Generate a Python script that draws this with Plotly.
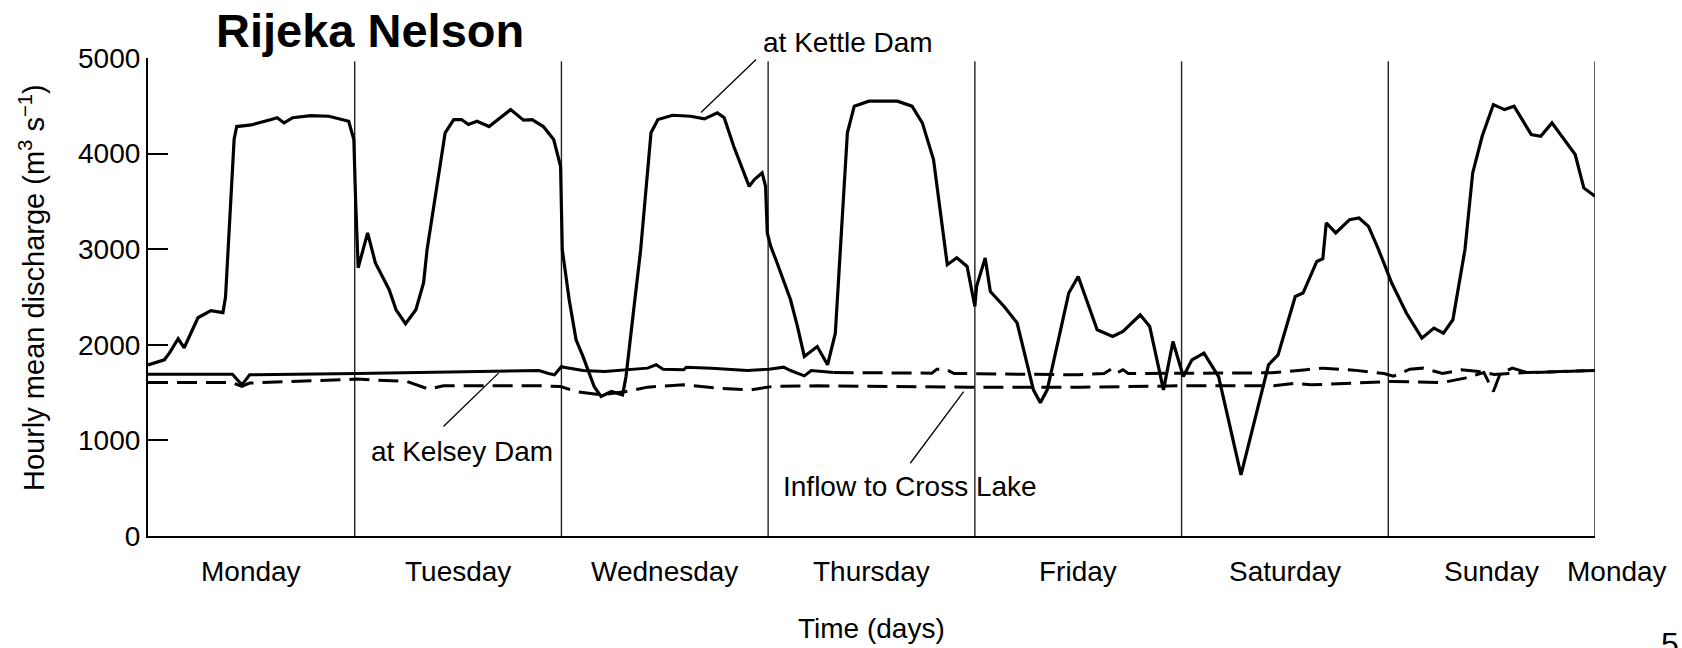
import plotly.graph_objects as go

# ---------------- data (hours from Monday 00:00, discharge m3/s) ----------------
kettle_hours = [0, 1.9, 2.5, 3.5, 4.2, 5.8, 7.3, 8.7, 9.0, 9.5, 10.0, 10.3, 12.0, 14.3, 15.0, 15.8,
                16.8, 18.9, 21.0, 23.3, 23.9, 24.1, 24.4, 25.5, 26.4, 28.0, 28.8, 29.9, 31.1, 32.0,
                32.4, 34.5, 35.5, 36.4, 37.2, 38.2, 39.6, 40.9, 42.1, 43.6, 44.6, 45.9, 47.1, 47.9,
                48.1, 48.9, 49.7, 50.5, 51.8, 52.6, 53.8, 55.1, 55.5, 56.3, 57.2, 58.4, 59.2, 60.9,
                63.0, 64.6, 66.1, 66.9, 68.0, 69.8, 70.4, 71.3, 71.7, 71.9, 72.3, 72.9, 74.6, 75.4,
                76.2, 77.7, 78.9, 79.8, 80.4, 81.2, 82.0, 83.7, 87.0, 88.7, 89.9, 91.2, 92.8, 93.9,
                95.1, 96.0, 96.2, 97.2, 97.8, 99.4, 100.9, 102.0, 102.8, 103.6, 104.4, 105.7, 106.9,
                108.0, 109.0, 110.2, 112.0, 113.2, 115.2, 116.3, 117.9, 119.0, 120.2, 121.2, 122.6,
                124.3, 126.9, 130.1, 131.2, 133.2, 134.1, 135.7, 136.4, 136.8, 137.9, 139.5, 140.6,
                141.7, 142.8, 144.4, 146.1, 147.9, 149.3, 150.4, 151.5, 152.2, 152.9, 153.8, 154.9,
                156.2, 157.5, 158.6, 160.6, 161.7, 163.0, 165.7, 166.7, 168.0]
kettle_flow = [1790, 1843, 1916, 2063, 1969, 2283, 2358, 2337, 2500, 3300, 4150, 4283, 4300, 4356, 4375, 4321,
               4375, 4398, 4391, 4338, 4147, 3518, 2806, 3170, 2857, 2576, 2366, 2220, 2366, 2650,
               2995, 4218, 4356, 4356, 4304, 4338, 4283, 4375, 4460, 4350, 4356, 4283, 4147, 3867,
               2995, 2471, 2052, 1878, 1563, 1459, 1511, 1476, 1668, 2296, 2995, 4218, 4356, 4401,
               4391, 4363, 4426, 4375, 4077, 3658, 3728, 3798, 3658, 3170, 3030, 2890, 2471, 2192,
               1878, 1982, 1791, 2122, 2995, 4218, 4496, 4548, 4548, 4496, 4322, 3937, 2838, 2910,
               2820, 2401, 2611, 2908, 2558, 2401, 2230, 1843, 1529, 1393, 1529, 2052, 2541,
               2715, 2471, 2157, 2087, 2140, 2314, 2192, 1529, 2035, 1668, 1843, 1913,
               1668, 639, 1791, 1895, 2506, 2541, 2872, 2900, 3275, 3170, 3309, 3326,
               3239, 3012, 2646, 2332, 2070, 2175, 2122, 2262, 2646, 2995, 3798, 4181,
               4513, 4460, 4496, 4199, 4181, 4321, 3990, 3641, 3553]

kelsey_hours = [0, 9.8, 10.9, 11.8, 24.3, 45.4, 46.5, 47.2, 48.0, 48.3, 50.5, 53.0, 58.0, 59.0, 59.8,
                62.2, 62.5, 65.4, 69.6, 72.1, 73.8, 74.6, 76.2, 77.0, 79.6,
                91.0, 91.6, 92.6, 93.6, 108.0, 111.0, 111.8, 112.4, 113.2, 113.8, 120.0, 130.5,
                134.5, 136.5, 140.0, 143.5, 144.6, 146.5, 148.0, 150.3, 152.5, 154.5, 156.3, 160.0, 168.0]
kelsey_flow = [1693, 1693, 1581, 1686, 1700, 1731, 1700, 1686, 1773, 1766, 1731, 1721, 1756, 1791, 1745,
               1738, 1766, 1756, 1731, 1745, 1766, 1731, 1675, 1731, 1710,
               1703, 1745, 1745, 1700, 1686, 1700, 1745, 1700, 1740, 1700, 1700, 1707,
               1740, 1756, 1735, 1700, 1672, 1745, 1756, 1700, 1738, 1720, 1690, 1710, 1731]
kelsey_dashed_from = 79.6   # after this hour the Kelsey record is drawn dashed

inflow_hours = [0, 9.8, 10.9, 11.8, 24.3, 28.0, 30.1, 32.6, 34.3, 45.5, 47.9, 49.7, 52.6, 55.5, 58.0,
                62.2, 66.3, 70.0, 72.5, 77.8, 95.3, 108.2, 120.0, 130.7, 133.2, 135.0, 144.4, 150.3,
                152.9, 155.1, 156.2, 157.0, 158.4, 160.2, 168.0]
inflow_flow = [1605, 1605, 1564, 1600, 1641, 1630, 1616, 1536, 1571, 1571, 1564, 1511, 1476, 1511, 1557,
               1581, 1546, 1529, 1564, 1571, 1557, 1557, 1571, 1571, 1599, 1581, 1616, 1606,
               1651, 1710, 1511, 1700, 1756, 1707, 1731]

day_boundaries = [24, 48, 72, 96, 120, 144, 168]
day_labels = ["Monday", "Tuesday", "Wednesday", "Thursday", "Friday", "Saturday", "Sunday", "Monday"]
day_label_hours = [12, 36, 60, 84, 108, 132, 156, 170.5]
y_ticks = [0, 1000, 2000, 3000, 4000, 5000]
HOURS_SPAN = 168

# labelled lines: text, text position (hour, flow), leader start, leader end
labels = [
    ("at Kettle Dam", (81.3, 5160), (64.2, 4429), (70.6, 4984)),
    ("at Kelsey Dam", (36.4, 880), (34.3, 1145), (40.7, 1704)),
    ("Inflow to Cross Lake", (88.5, 513), (88.5, 761), (94.7, 1511)),
]

# ---------------- figure ----------------
FONT = "Liberation Sans, Arial, Helvetica, sans-serif"
FS = 28
YMAX = 5000
fig = go.Figure()

split = kelsey_hours.index(kelsey_dashed_from)
fig.add_trace(go.Scatter(x=inflow_hours, y=inflow_flow, mode="lines",
                         line=dict(color="black", width=3, dash="20px,9px")))
fig.add_trace(go.Scatter(x=kelsey_hours[:split + 1], y=kelsey_flow[:split + 1], mode="lines",
                         line=dict(color="black", width=3)))
fig.add_trace(go.Scatter(x=kelsey_hours[split:], y=kelsey_flow[split:], mode="lines",
                         line=dict(color="black", width=3, dash="20px,9px")))
fig.add_trace(go.Scatter(x=kettle_hours, y=kettle_flow, mode="lines",
                         line=dict(color="black", width=3.2)))

shapes = []
for b in day_boundaries:
    shapes.append(dict(type="line", xref="x", yref="y", x0=b, x1=b, y0=0, y1=4965,
                       line=dict(color="#222", width=1.4), layer="below"))
annotations = []
for text, (tx, ty), (lx0, ly0), (lx1, ly1) in labels:
    shapes.append(dict(type="line", xref="x", yref="y", x0=lx0, y0=ly0, x1=lx1, y1=ly1,
                       line=dict(color="black", width=1.3)))
    annotations.append(dict(x=tx / HOURS_SPAN, y=ty / YMAX, xref="paper", yref="paper", text=text,
                            showarrow=False, xanchor="center", yanchor="middle",
                            font=dict(size=FS, color="black")))

for lab, h in zip(day_labels, day_label_hours):
    annotations.append(dict(x=h / HOURS_SPAN, y=0, xref="paper", yref="paper", text=lab,
                            showarrow=False, xanchor="center", yanchor="top", yshift=-18,
                            font=dict(size=FS, color="black")))

PW, PH, L, T = 1447, 478, 148, 58


def px(xp):
    return (xp - L) / PW


def py(yp):
    return (T + PH - yp) / PH


annotations += [
    dict(x=px(370), y=py(31), xref="paper", yref="paper", text="<b>Rijeka Nelson</b>",
         showarrow=False, xanchor="center", yanchor="middle", font=dict(size=47, color="black")),
    dict(x=px(32), y=py(288), xref="paper", yref="paper", textangle=-90,
         text="Hourly mean discharge (m<sup>3</sup> s<sup>\u22121</sup>)",
         showarrow=False, xanchor="center", yanchor="middle", font=dict(size=29, color="black")),
    dict(x=px(871), y=py(628), xref="paper", yref="paper", text="Time (days)",
         showarrow=False, xanchor="center", yanchor="middle", font=dict(size=FS, color="black")),
    dict(x=px(1659), y=py(624), xref="paper", yref="paper", text="5",
         showarrow=False, xanchor="left", yanchor="top", font=dict(size=32, color="black")),
]

fig.update_layout(
    width=1682, height=648,
    margin=dict(l=L, r=1682 - L - PW, t=T, b=648 - T - PH, pad=0),
    paper_bgcolor="white", plot_bgcolor="white",
    showlegend=False,
    font=dict(family=FONT, size=FS, color="black"),
    shapes=shapes, annotations=annotations,
    xaxis=dict(range=[0, HOURS_SPAN], showgrid=False, zeroline=False, showline=True, linewidth=2.2,
               linecolor="black", ticks="", showticklabels=False),
    yaxis=dict(range=[0, YMAX], tickvals=y_ticks, showgrid=False, zeroline=False, showline=True,
               linewidth=2.2, linecolor="black", ticks="inside", ticklen=20, tickwidth=2,
               tickcolor="black", tickfont=dict(size=FS, color="black"), ticklabelstandoff=0),
)

fig.write_html("out.html", config={"displayModeBar": False},
               post_script="document.body.style.margin='0';document.body.style.overflow='hidden';")
